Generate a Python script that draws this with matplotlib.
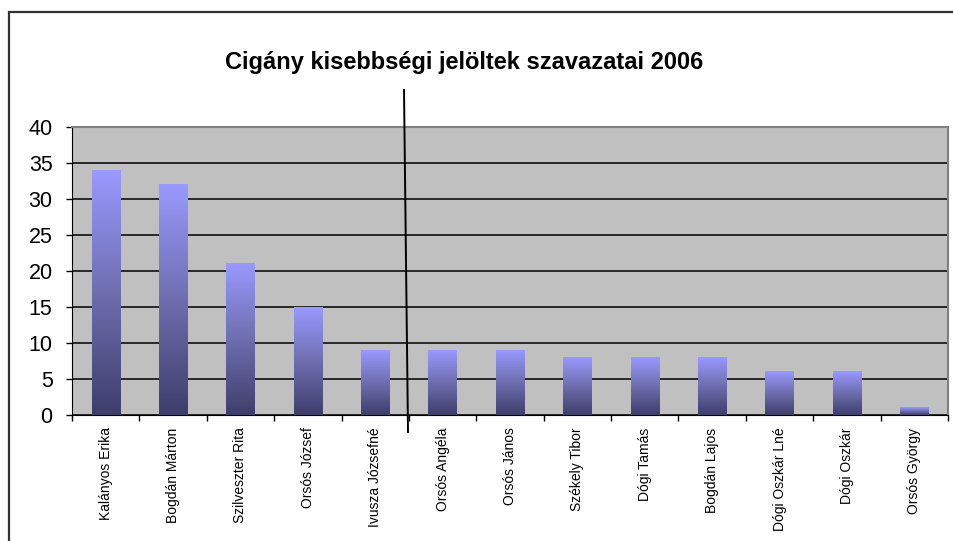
import numpy as np
import matplotlib
matplotlib.use("Agg")
import matplotlib.pyplot as plt
from matplotlib.colors import LinearSegmentedColormap
from matplotlib.patches import Rectangle
from matplotlib.lines import Line2D

plt.rcParams['font.family'] = ['Liberation Sans', 'DejaVu Sans']

names = ["Kalányos Erika", "Bogdán Márton", "Szilveszter Rita", "Orsós József",
         "Ivusza Józsefné", "Orsós Angéla", "Orsós János", "Székely Tibor",
         "Dógi Tamás", "Bogdán Lajos", "Dógi Oszkár Lné", "Dógi Oszkár",
         "Orsós György"]
votes = [34, 32, 21, 15, 9, 9, 9, 8, 8, 8, 6, 6, 1]
yticks = [0, 5, 10, 15, 20, 25, 30, 35, 40]

fig = plt.figure(figsize=(9.54, 5.41), dpi=100)
ax = fig.add_axes([72/954, 1-415/541, 876/954, 288/541])
ax.set_facecolor('#C0C0C0')

x = np.arange(len(names))
bars = ax.bar(x, votes, width=0.42, color='none', zorder=3)

# vertical gradient in every bar, light on top, dark at the bottom
cmap = LinearSegmentedColormap.from_list('grad', ['#3E3E6C', '#6E6EB0', '#9999FF'])
grad = np.linspace(0, 1, 256).reshape(-1, 1)
for b in bars:
    x0, y0 = b.get_x(), b.get_y()
    ax.imshow(grad, cmap=cmap, origin='lower', aspect='auto', zorder=3,
              extent=[x0, x0 + b.get_width(), y0, y0 + b.get_height()])

ax.set_xlim(-0.5, len(names) - 0.5)
ax.set_ylim(0, 40)
ax.set_yticks(yticks)
ax.set_yticklabels([str(v) for v in yticks], fontsize=15.5)
ax.yaxis.grid(True, color='black', linewidth=1.1, zorder=1)
ax.set_axisbelow(True)

ax.set_xticks(x)
ax.set_xticklabels(names, rotation=90, fontsize=10)
ax.set_xticks(np.arange(-0.5, len(names), 1), minor=True)
ax.tick_params(axis='x', which='major', length=0, pad=9)
ax.tick_params(axis='x', which='minor', length=4, width=1, direction='out')
ax.tick_params(axis='y', length=4, width=1, pad=10)

ax.spines['top'].set_color('#808080')
ax.spines['right'].set_color('#808080')
ax.spines['top'].set_linewidth(1.5)
ax.spines['right'].set_linewidth(1.5)
ax.spines['left'].set_color('black')
ax.spines['bottom'].set_color('black')

fig.text(464/954, 1-62/541, "Cigány kisebbségi jelöltek szavazatai 2006",
         fontsize=17, fontweight='bold', ha='center', va='center')

# hand drawn divider line
fig.add_artist(Line2D([404/954, 408/954], [1-90/541, 1-432/541],
                      color='black', linewidth=1.4))

# outer frame
fig.add_artist(Rectangle((9/954, -0.1), 1.2, 1.1 - 12/541, fill=False,
                         edgecolor='#333333', linewidth=1.6))

fig.savefig("out.png", dpi=100)
